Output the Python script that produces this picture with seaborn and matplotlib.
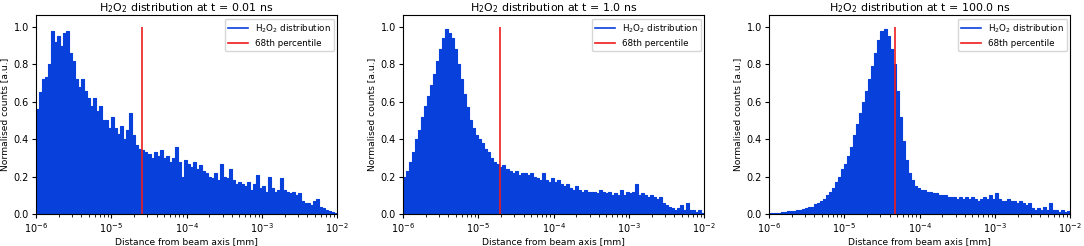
import numpy as np
import matplotlib
matplotlib.use("Agg")
import matplotlib.pyplot as plt
from matplotlib.lines import Line2D
import seaborn as sns

# time points and 68th percentile radius [mm]
times = ["0.01", "1.0", "100.0"]
percentile_68 = [2.54e-5, 1.94e-5, 4.72e-5]

# normalised counts, 25 log bins per decade from 1e-6 to 1e-2 mm
counts_001ns = [
    0.56, 0.65, 0.72, 0.73, 0.80, 0.98, 0.92, 0.95, 0.90, 0.97, 0.98, 0.86, 0.82,
    0.72, 0.68, 0.72, 0.66, 0.62, 0.58, 0.62, 0.55, 0.58, 0.50, 0.50, 0.46,
    0.52, 0.46, 0.43, 0.47, 0.40, 0.45, 0.54, 0.42, 0.37, 0.35, 0.34, 0.33, 0.32,
    0.30, 0.33, 0.31, 0.34, 0.30, 0.31, 0.28, 0.30, 0.36, 0.28, 0.20, 0.29,
    0.27, 0.25, 0.28, 0.24, 0.26, 0.23, 0.22, 0.20, 0.19, 0.22, 0.18, 0.27, 0.20,
    0.19, 0.24, 0.18, 0.16, 0.17, 0.16, 0.15, 0.17, 0.13, 0.16, 0.21, 0.14,
    0.15, 0.12, 0.20, 0.14, 0.12, 0.13, 0.19, 0.13, 0.12, 0.11, 0.12, 0.10, 0.11,
    0.07, 0.06, 0.06, 0.05, 0.07, 0.08, 0.04, 0.03, 0.02, 0.015, 0.01, 0.005,
]
counts_1ns = [
    0.20, 0.23, 0.28, 0.33, 0.40, 0.45, 0.52, 0.58, 0.63, 0.69, 0.75, 0.82, 0.88,
    0.94, 0.99, 0.97, 0.94, 0.88, 0.80, 0.72, 0.64, 0.57, 0.50, 0.46, 0.42,
    0.40, 0.38, 0.35, 0.33, 0.30, 0.28, 0.27, 0.25, 0.26, 0.24, 0.23, 0.22, 0.23,
    0.21, 0.22, 0.22, 0.21, 0.22, 0.20, 0.19, 0.18, 0.22, 0.18, 0.17, 0.19,
    0.17, 0.18, 0.16, 0.15, 0.16, 0.14, 0.13, 0.15, 0.13, 0.12, 0.13, 0.12, 0.12,
    0.12, 0.11, 0.13, 0.12, 0.11, 0.12, 0.10, 0.11, 0.10, 0.13, 0.10, 0.12,
    0.11, 0.12, 0.16, 0.10, 0.11, 0.10, 0.09, 0.10, 0.09, 0.08, 0.09, 0.06, 0.05,
    0.04, 0.03, 0.02, 0.03, 0.05, 0.02, 0.06, 0.02, 0.02, 0.01, 0.02, 0.005,
]
counts_100ns = [
    0.005, 0.005, 0.007, 0.008, 0.01, 0.012, 0.015, 0.015, 0.018, 0.02, 0.022,
    0.025, 0.03, 0.035, 0.04, 0.055, 0.06, 0.07, 0.08, 0.10, 0.12, 0.14, 0.17,
    0.20, 0.24,
    0.27, 0.31, 0.36, 0.42, 0.48, 0.54, 0.60, 0.66, 0.72, 0.79, 0.86, 0.93, 0.98,
    0.99, 0.95, 0.88, 0.80, 0.66, 0.52, 0.39, 0.29, 0.22, 0.18, 0.15, 0.14,
    0.13, 0.13, 0.12, 0.12, 0.11, 0.11, 0.10, 0.10, 0.10, 0.09, 0.09, 0.09, 0.08,
    0.09, 0.08, 0.09, 0.08, 0.09, 0.08, 0.07, 0.08, 0.09, 0.08, 0.10, 0.08,
    0.11, 0.08, 0.07, 0.07, 0.08, 0.07, 0.07, 0.06, 0.07, 0.06, 0.05, 0.06, 0.03,
    0.02, 0.03, 0.02, 0.04, 0.02, 0.06, 0.02, 0.02, 0.01, 0.02, 0.01, 0.015,
]
all_counts = [counts_001ns, counts_1ns, counts_100ns]

nbins = len(counts_001ns)
edges = np.logspace(-6, -2, nbins + 1)
centers = np.sqrt(edges[:-1] * edges[1:])

fill_col = "#0840dc"
red = "#ee1c1c"

plt.rcParams["font.size"] = 7

fig = plt.figure(figsize=(10.84, 2.46), dpi=100)
lefts = [0.0332, 0.3718, 0.7094]
width = 0.278

for i in range(3):
    ax = fig.add_axes([lefts[i], 0.130, width, 0.809])
    sns.histplot(x=centers, weights=all_counts[i], bins=nbins, binrange=(-6, -2),
                 log_scale=True, element="step", fill=True, color=fill_col,
                 alpha=1, linewidth=0.8, ax=ax)
    ax.vlines(percentile_68[i], 0, 1.0, color=red, linewidth=1.2)
    ax.set_xlim(1e-6, 1e-2)
    ax.set_ylim(0, 1.064)
    ax.set_title("H$_2$O$_2$ distribution at t = %s ns" % times[i], fontsize=7.9, pad=3)
    ax.set_xlabel("Distance from beam axis [mm]", fontsize=6.6, labelpad=2)
    ax.set_ylabel("Normalised counts [a.u.]", fontsize=6.6, labelpad=3)
    ax.tick_params(labelsize=7, length=3, pad=2)
    ax.tick_params(which="minor", length=1.8)
    handles = [Line2D([0], [0], color="#0a3fe0", lw=1.2),
               Line2D([0], [0], color=red, lw=1.2)]
    ax.legend(handles, ["H$_2$O$_2$ distribution", "68th percentile"],
              loc="upper right", fontsize=6.3, handlelength=2.2, borderaxespad=0.4)

fig.savefig("out.png", dpi=100)
